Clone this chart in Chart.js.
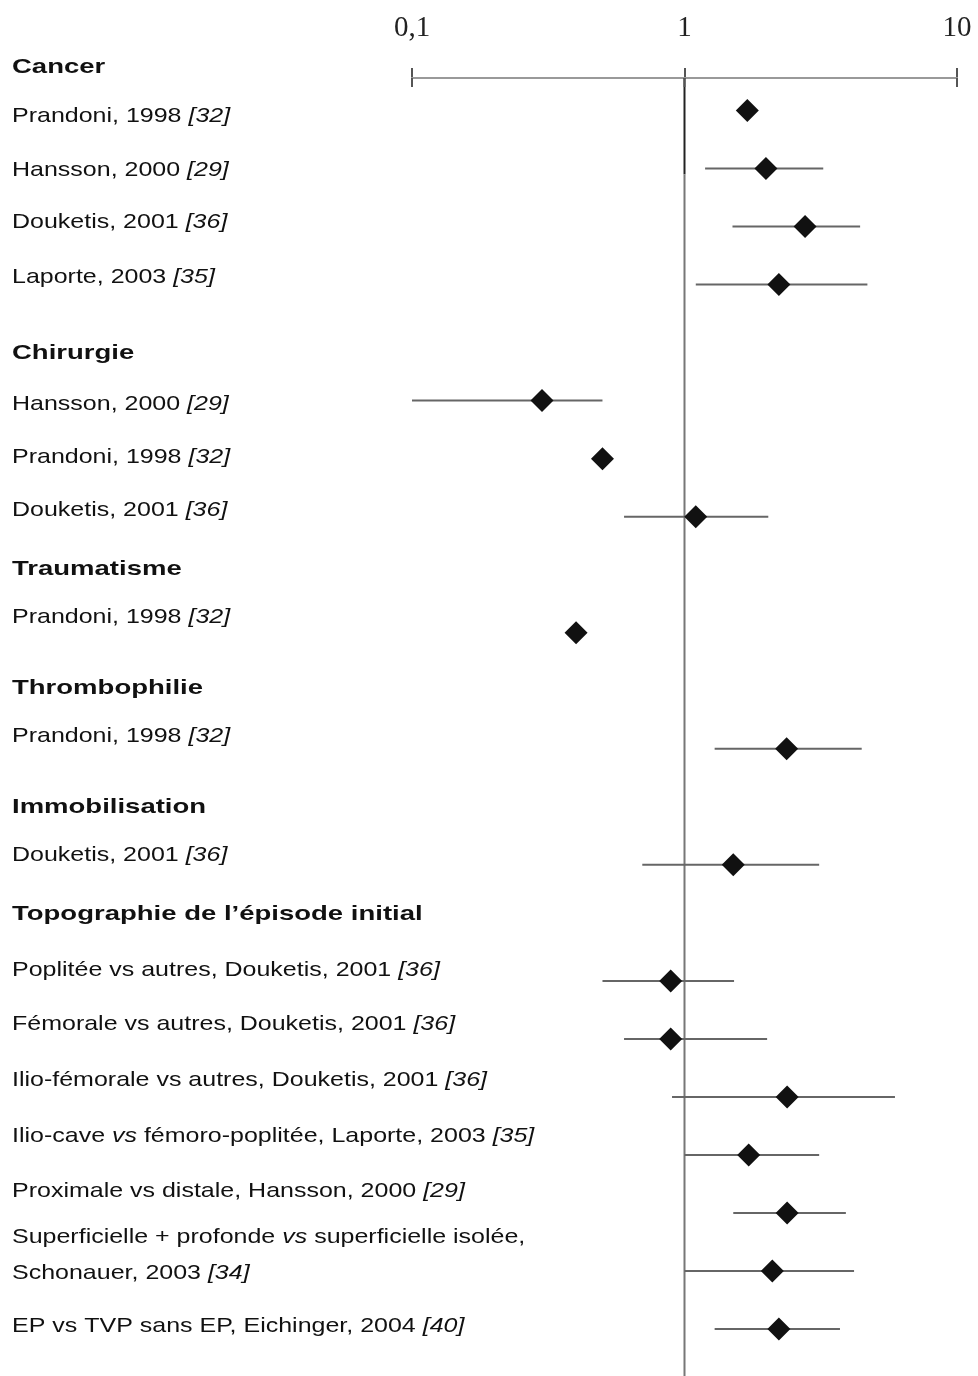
<!DOCTYPE html>
<html lang="fr">
<head>
<meta charset="UTF-8">
<title>Forest plot</title>
<script src="https://cdn.jsdelivr.net/npm/chart.js"></script>
<style>
  body { margin: 0; background: #fff; }
  #wrap { width: 978px; height: 1376px; position: relative; }
</style>
</head>
<body>
<div id="wrap"><canvas id="myChart"></canvas></div>
<script>
// une ligne par étude (index de rangée sur l'axe vertical)
const rows   = [0, 1, 2, 3, 5, 6, 7, 9, 11, 13, 15, 16, 17, 18, 19, 20, 21];
const ratio  = [1.70, 1.99, 2.77, 2.22, 0.30, 0.50, 1.10, 0.40, 2.37, 1.51, 0.89, 0.89, 2.38, 1.72, 2.38, 2.10, 2.22];
const ciLow  = [null, 1.19, 1.50, 1.10, 0.10, null, 0.60, null, 1.29, 0.70, 0.50, 0.60, 0.90, 1.00, 1.51, 1.00, 1.29];
const ciHigh = [null, 3.23, 4.41, 4.69, 0.50, null, 2.03, null, 4.47, 3.12, 1.52, 2.01, 5.92, 3.12, 3.91, 4.19, 3.72];

const tickValues = [0.1, 1, 10];
const tickLabels = ['0,1', '1', '10'];

const groupLabels = ['Cancer', 'Chirurgie', 'Traumatisme', 'Thrombophilie', 'Immobilisation', 'Topographie de l’épisode initial'];

// texte de gauche, *...* = italique
const labelLines = [
  'Cancer',
  'Prandoni, 1998 *[32]*',
  'Hansson, 2000 *[29]*',
  'Douketis, 2001 *[36]*',
  'Laporte, 2003 *[35]*',
  'Chirurgie',
  'Hansson, 2000 *[29]*',
  'Prandoni, 1998 *[32]*',
  'Douketis, 2001 *[36]*',
  'Traumatisme',
  'Prandoni, 1998 *[32]*',
  'Thrombophilie',
  'Prandoni, 1998 *[32]*',
  'Immobilisation',
  'Douketis, 2001 *[36]*',
  'Topographie de l’épisode initial',
  'Poplitée vs autres, Douketis, 2001 *[36]*',
  'Fémorale vs autres, Douketis, 2001 *[36]*',
  'Ilio-fémorale vs autres, Douketis, 2001 *[36]*',
  'Ilio-cave *vs* fémoro-poplitée, Laporte, 2003 *[35]*',
  'Proximale vs distale, Hansson, 2000 *[29]*',
  'Superficielle + profonde *vs* superficielle isolée,',
  'Schonauer, 2003 *[34]*',
  'EP vs TVP sans EP, Eichinger, 2004 *[40]*'
];
// mise en page : rangée (même unité que l'axe vertical) de chaque ligne de texte
const labelRows = [-0.78, 0.07, 1.0, 1.9, 2.84, 4.15, 5.03, 5.95, 6.86, 7.88, 8.7, 9.93, 10.75,
                   11.98, 12.8, 13.82, 14.78, 15.72, 16.68, 17.64, 18.6, 19.38, 20.01, 20.92];

const datasets = [{
  data: rows.map((r, i) => ({x: ratio[i], y: r})),
  pointStyle: 'rectRot',
  pointRadius: 11.5,
  pointHoverRadius: 11.5,
  backgroundColor: '#111',
  borderColor: '#111',
  borderWidth: 0
}];
rows.forEach((r, i) => {
  if (ciLow[i] === null) return;
  datasets.push({
    data: [{x: ciLow[i], y: r}, {x: ciHigh[i], y: r}],
    showLine: true,
    borderColor: '#666',
    borderWidth: 2,
    pointRadius: 0
  });
});

const labelPlugin = {
  id: 'leftLabels',
  afterDraw(chart) {
    const ctx = chart.ctx, y = chart.scales.y;
    ctx.save();
    ctx.fillStyle = '#111';
    ctx.textBaseline = 'alphabetic';
    labelLines.forEach((line, i) => {
      const py = y.getPixelForValue(labelRows[i]) + 7.5;
      const bold = groupLabels.includes(line);
      const sx = bold ? 1.31 : 1.19;
      let cx = 12;
      line.split('*').forEach((part, k) => {
        if (!part) return;
        ctx.font = (k % 2 ? 'italic ' : '') + (bold ? 'bold ' : '') + '21px "Liberation Sans", Arial, sans-serif';
        ctx.save();
        ctx.translate(cx, py);
        ctx.scale(sx, 1);
        ctx.fillText(part, 0, 0);
        ctx.restore();
        cx += ctx.measureText(part).width * sx;
      });
    });
    ctx.restore();
  }
};

const refLinePlugin = {
  id: 'refLine',
  beforeDatasetsDraw(chart) {
    const ctx = chart.ctx, x = chart.scales.x, y = chart.scales.y;
    const px = x.getPixelForValue(1);
    const top = chart.chartArea.top;
    const mid = y.getPixelForValue(1.1);
    ctx.save();
    ctx.lineWidth = 2;
    ctx.strokeStyle = '#222';
    ctx.beginPath(); ctx.moveTo(px, top); ctx.lineTo(px, mid); ctx.stroke();
    ctx.strokeStyle = '#777';
    ctx.beginPath(); ctx.moveTo(px, mid); ctx.lineTo(px, chart.height); ctx.stroke();
    // petites graduations sous l'axe
    ctx.strokeStyle = '#555';
    tickValues.forEach(v => {
      const tx = x.getPixelForValue(v);
      ctx.beginPath(); ctx.moveTo(tx, top); ctx.lineTo(tx, top + 9); ctx.stroke();
    });
    ctx.restore();
  }
};

const ctx = document.getElementById('myChart');
const myChart = new Chart(ctx, {
  type: 'scatter',
  data: { datasets: datasets },
  options: {
    responsive: true,
    maintainAspectRatio: false,
    animation: false,
    layout: { padding: { left: 412, right: 21, top: 0, bottom: 0 } },
    plugins: { legend: { display: false }, tooltip: { enabled: false } },
    scales: {
      x: {
        type: 'logarithmic',
        position: 'top',
        min: 0.1,
        max: 10,
        afterBuildTicks: s => { s.ticks = tickValues.map(v => ({ value: v })); },
        afterFit: s => { s.height = 78; s.paddingLeft = 0; s.paddingRight = 0; },
        ticks: {
          callback: (v, i) => tickLabels[i],
          font: { family: '"Liberation Serif", "Times New Roman", serif', size: 29 },
          color: '#222',
          padding: 22,
          maxRotation: 0,
          autoSkip: false
        },
        grid: { drawOnChartArea: false, tickLength: 10, color: '#555', lineWidth: 2 },
        border: { display: true, color: '#999', width: 2 }
      },
      y: {
        type: 'linear',
        reverse: true,
        min: -0.559,
        max: 21.61,
        display: false
      }
    }
  },
  plugins: [labelPlugin, refLinePlugin]
});
</script>
</body>
</html>
